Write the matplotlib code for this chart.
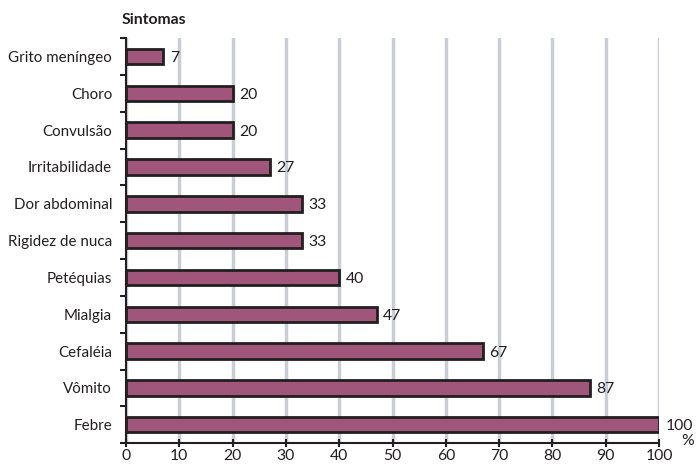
import numpy as np
import matplotlib.pyplot as plt
from matplotlib.ticker import FixedLocator

plt.rcParams['font.family'] = ['Lato', 'DejaVu Sans']

sintomas = ["Grito meníngeo", "Choro", "Convulsão", "Irritabilidade", "Dor abdominal",
            "Rigidez de nuca", "Petéquias", "Mialgia", "Cefaléia", "Vômito", "Febre"]
valores = [7, 20, 20, 27, 33, 33, 40, 47, 67, 87, 100]

BAR = "#A0557A"
EDGE = "#231F20"
GRID = "#C9CDD6"
FS = 10.9

fig = plt.figure(figsize=(6.96, 4.65), dpi=100)
ax = fig.add_axes([0.181, 0.047, 0.766, 0.871])

y = np.arange(len(sintomas))
ax.barh(y, valores, height=0.42, color=BAR, edgecolor=EDGE, linewidth=2, zorder=3)
for yi, v in zip(y, valores):
    ax.text(v + 1.2, yi, str(v), va="center_baseline", ha="left", fontsize=FS + 0.4, color=EDGE)

ax.set_xlim(0, 100)
ax.set_ylim(len(sintomas) - 0.5, -0.5)
ax.set_xticks(np.arange(0, 101, 10))
ax.set_yticks(y)
ax.set_yticklabels(sintomas)
ax.yaxis.set_minor_locator(FixedLocator(np.arange(-0.5, len(sintomas), 1)))
ax.tick_params(axis="y", which="major", length=0, pad=10, labelsize=FS, colors=EDGE)
ax.tick_params(axis="y", which="minor", length=4, width=1.5, color=EDGE, direction="out")
ax.tick_params(axis="x", length=6, width=1.5, color=EDGE, direction="inout",
               labelsize=FS + 0.4, pad=1, labelcolor=EDGE)
ax.grid(axis="x", color=GRID, linewidth=2.5, zorder=0)
for s in ["top", "right"]:
    ax.spines[s].set_visible(False)
for s in ["left", "bottom"]:
    ax.spines[s].set_linewidth(1.5)
    ax.spines[s].set_color(EDGE)

fig.text(122 / 696, 1 - 20 / 465, "Sintomas", fontsize=FS + 0.4, fontweight="bold", ha="left", va="center", color=EDGE)
fig.text(688 / 696, 1 - 441 / 465, "%", fontsize=FS + 0.4, ha="center", va="center", color=EDGE)

fig.savefig("out.png", dpi=100, facecolor="white")
